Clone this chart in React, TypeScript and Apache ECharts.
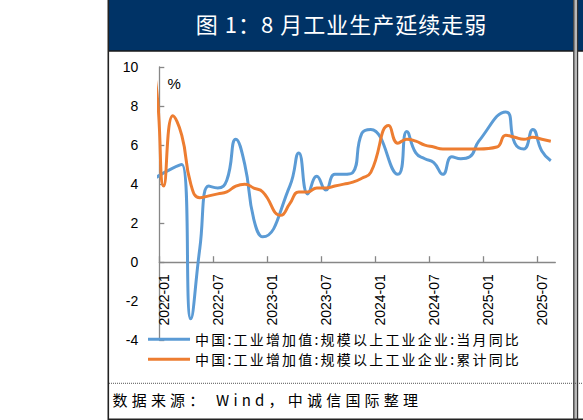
import React, { useEffect, useRef } from 'react';
import * as echarts from 'echarts';

// ---- data ----
const months = [
  '2021-11', '2021-12',
  '2022-01', '2022-02', '2022-03', '2022-04', '2022-05', '2022-06', '2022-07', '2022-08', '2022-09', '2022-10', '2022-11', '2022-12',
  '2023-01', '2023-02', '2023-03', '2023-04', '2023-05', '2023-06', '2023-07', '2023-08', '2023-09', '2023-10', '2023-11', '2023-12',
  '2024-01', '2024-02', '2024-03', '2024-04', '2024-05', '2024-06', '2024-07', '2024-08', '2024-09', '2024-10', '2024-11', '2024-12',
  '2025-01', '2025-02', '2025-03', '2025-04', '2025-05', '2025-06', '2025-07', '2025-08',
];

// 当月同比
const monthlyYoY: (number | null)[] = [
  3.8, 4.3,
  null, null, 5.0, -2.9, 0.7, 3.9, 3.8, 4.2, 6.3, 5.0, 2.2, 1.3,
  null, null, 3.9, 5.6, 3.5, 4.4, 3.7, 4.5, 4.5, 4.6, 6.6, 6.8,
  null, null, 4.5, 6.7, 5.6, 5.3, 5.1, 4.5, 5.4, 5.3, 5.4, 6.2,
  null, null, 7.7, 6.1, 5.8, 6.8, 5.7, 5.2,
];

// 累计同比
const cumulativeYoY: (number | null)[] = [
  10.1, 9.6,
  3.9, 7.5, 6.5, 4.0, 3.3, 3.4, 3.5, 3.6, 3.9, 4.0, 3.8, 3.6,
  null, 2.4, 3.0, 3.6, 3.6, 3.8, 3.8, 3.9, 4.0, 4.1, 4.3, 4.6,
  null, 7.0, 6.1, 6.3, 6.2, 6.0, 5.9, 5.8, 5.8, 5.8, 5.8, 5.8,
  null, 5.9, 6.5, 6.4, 6.3, 6.4, 6.3, 6.2,
];

const xTickLabels = ['2022-01', '2022-07', '2023-01', '2023-07', '2024-01', '2024-07', '2025-01', '2025-07'];
const axisFirstMonth = '2022-01';
const axisLastMonth = '2025-08';
const yMin = -4;
const yMax = 10;
const yInterval = 2;

const seriesNames = [
  '中国:工业增加值:规模以上工业企业:当月同比',
  '中国:工业增加值:规模以上工业企业:累计同比',
];
const seriesColors = ['#5B9BD5', '#ED7D31'];

const titleText = '图 1：8 月工业生产延续走弱';
const unitText = '%';
const sourceText = '数据来源： Wind，中诚信国际整理';

// ---- helpers ----
function monthIndex(s: string): number {
  const [y, m] = s.split('-').map(Number);
  const [y0, m0] = axisFirstMonth.split('-').map(Number);
  return (y - y0) * 12 + (m - m0);
}

function toPoints(values: (number | null)[]) {
  const pts: [number, number][] = [];
  months.forEach((m, i) => {
    const v = values[i];
    if (v !== null && v !== undefined) pts.push([monthIndex(m) + 0.5, v]);
  });
  return pts;
}

const CJK = '"Noto Sans CJK SC", "Noto Sans CJK JP", sans-serif';
const LATIN = '"Liberation Sans", Arial, sans-serif';
const AXIS_GRAY = '#878787';

const GRID = { left: 159.3, right: 27.7, top: 67, bottom: 79.7 };
const CHART_H = 420;

export default function App() {
  const ref = useRef<HTMLDivElement>(null);

  useEffect(() => {
    if (!ref.current) return;
    const el = ref.current;
    const chart = echarts.init(el, undefined, { renderer: 'svg' });

    const tickValues = xTickLabels.map((l) => monthIndex(l));
    const labelValues = xTickLabels.map((l) => monthIndex(l) + 0.5);
    const labelByIndex: Record<number, string> = {};
    xTickLabels.forEach((l) => { labelByIndex[monthIndex(l)] = l; });

    const gridHeight = CHART_H - GRID.top - GRID.bottom;
    // move the x axis up to the value 0 of the y axis
    const zeroOffset = -gridHeight * (0 - yMin) / (yMax - yMin);

    const option: any = {
      animation: false,
      backgroundColor: '#ffffff',
      grid: { ...GRID, containLabel: false },
      xAxis: {
        type: 'value',
        min: 0,
        max: monthIndex(axisLastMonth) + 1,
        interval: 6,
        offset: zeroOffset,
        axisLine: { show: true, onZero: false, lineStyle: { color: AXIS_GRAY, width: 1.3 } },
        axisTick: {
          show: true, inside: true, length: 6, customValues: tickValues,
          lineStyle: { color: AXIS_GRAY, width: 1.3 },
        },
        axisLabel: {
          customValues: labelValues,
          rotate: 90,
          margin: 12,
          color: '#000',
          fontSize: 14,
          fontFamily: LATIN,
          formatter: (v: number) => labelByIndex[Math.round(v - 0.5)] ?? '',
        },
        splitLine: { show: false },
      },
      yAxis: {
        type: 'value',
        min: yMin,
        max: yMax,
        interval: yInterval,
        axisLine: { show: true, onZero: false, lineStyle: { color: AXIS_GRAY, width: 1.3 } },
        axisTick: { show: true, inside: true, length: 5, lineStyle: { color: AXIS_GRAY, width: 1.3 } },
        axisLabel: { margin: 21, color: '#000', fontSize: 14, fontFamily: LATIN },
        splitLine: { show: false },
      },
      legend: {
        orient: 'vertical',
        left: 148,
        top: 332.3,
        padding: 0,
        icon: 'rect',
        itemWidth: 42,
        itemHeight: 3,
        itemGap: 6,
        data: seriesNames,
        textStyle: { fontFamily: CJK, fontSize: 14, color: '#000', lineHeight: 14 },
      },
      series: [monthlyYoY, cumulativeYoY].map((vals, i) => ({
        type: 'line',
        name: seriesNames[i],
        data: toPoints(vals),
        smooth: 0.5,
        connectNulls: true,
        symbol: 'none',
        clip: true,
        lineStyle: { color: seriesColors[i], width: 3 },
        itemStyle: { color: seriesColors[i] },
      })),
      graphic: [
        { type: 'rect', shape: { x: 109, y: 0, width: 464.5, height: 51 }, style: { fill: '#003366' }, z: 0 },
        { type: 'rect', shape: { x: 578, y: 0, width: 5, height: 51 }, style: { fill: '#003366' }, z: 0 },
        { type: 'line', shape: { x1: 108, y1: 51, x2: 583, y2: 51 }, style: { stroke: '#1a1a1a', lineWidth: 1.5 }, z: 1 },
        { type: 'line', shape: { x1: 108.3, y1: 0, x2: 108.3, y2: 420 }, style: { stroke: '#222', lineWidth: 1.6 }, z: 1 },
        { type: 'rect', shape: { x: 573.5, y: 0, width: 4.2, height: 420 }, style: { fill: '#b8b8b8' }, z: 1 },
        { type: 'line', shape: { x1: 573.8, y1: 0, x2: 573.8, y2: 420 }, style: { stroke: '#333', lineWidth: 1.2 }, z: 2 },
        { type: 'line', shape: { x1: 577.6, y1: 0, x2: 577.6, y2: 420 }, style: { stroke: '#333', lineWidth: 1.2 }, z: 2 },
        { type: 'line', shape: { x1: 109, y1: 383.3, x2: 583, y2: 383.3 }, style: { stroke: '#555', lineWidth: 1, lineDash: [1, 1] }, z: 1 },
        { type: 'line', shape: { x1: 108, y1: 419.3, x2: 583, y2: 419.3 }, style: { stroke: '#222', lineWidth: 1.5 }, z: 1 },
        {
          type: 'text', x: 341.5, y: 23, z: 3,
          style: { text: titleText, fill: '#ffffff', fontSize: 22, fontFamily: CJK, align: 'center', verticalAlign: 'middle' },
        },
        {
          type: 'text', x: 167.5, y: 75.5, z: 3,
          style: { text: unitText, fill: '#000', fontSize: 15, fontFamily: LATIN, align: 'left', verticalAlign: 'top' },
        },
        {
          type: 'text', x: 112.5, y: 399.5, z: 3,
          style: { text: sourceText, fill: '#000', fontSize: 15, fontFamily: CJK, align: 'left', verticalAlign: 'middle' },
        },
      ],
    };

    chart.setOption(option);

    // the original is typeset with wide character spacing
    const spacing: Record<string, number> = {
      [titleText]: 1.0,
      [sourceText]: 4.2,
      [seriesNames[0]]: 2.2,
      [seriesNames[1]]: 2.2,
    };
    const applySpacing = () => {
      el.querySelectorAll('text').forEach((t) => {
        const s = spacing[(t.textContent || '').trim()];
        if (s) t.setAttribute('letter-spacing', String(s));
      });
    };
    applySpacing();
    chart.on('finished', applySpacing);
    const raf = requestAnimationFrame(applySpacing);

    return () => {
      cancelAnimationFrame(raf);
      chart.dispose();
    };
  }, []);

  return (
    <div
      ref={ref}
      style={{ position: 'fixed', left: 0, top: 0, width: 583, height: 420, background: '#fff' }}
    />
  );
}
